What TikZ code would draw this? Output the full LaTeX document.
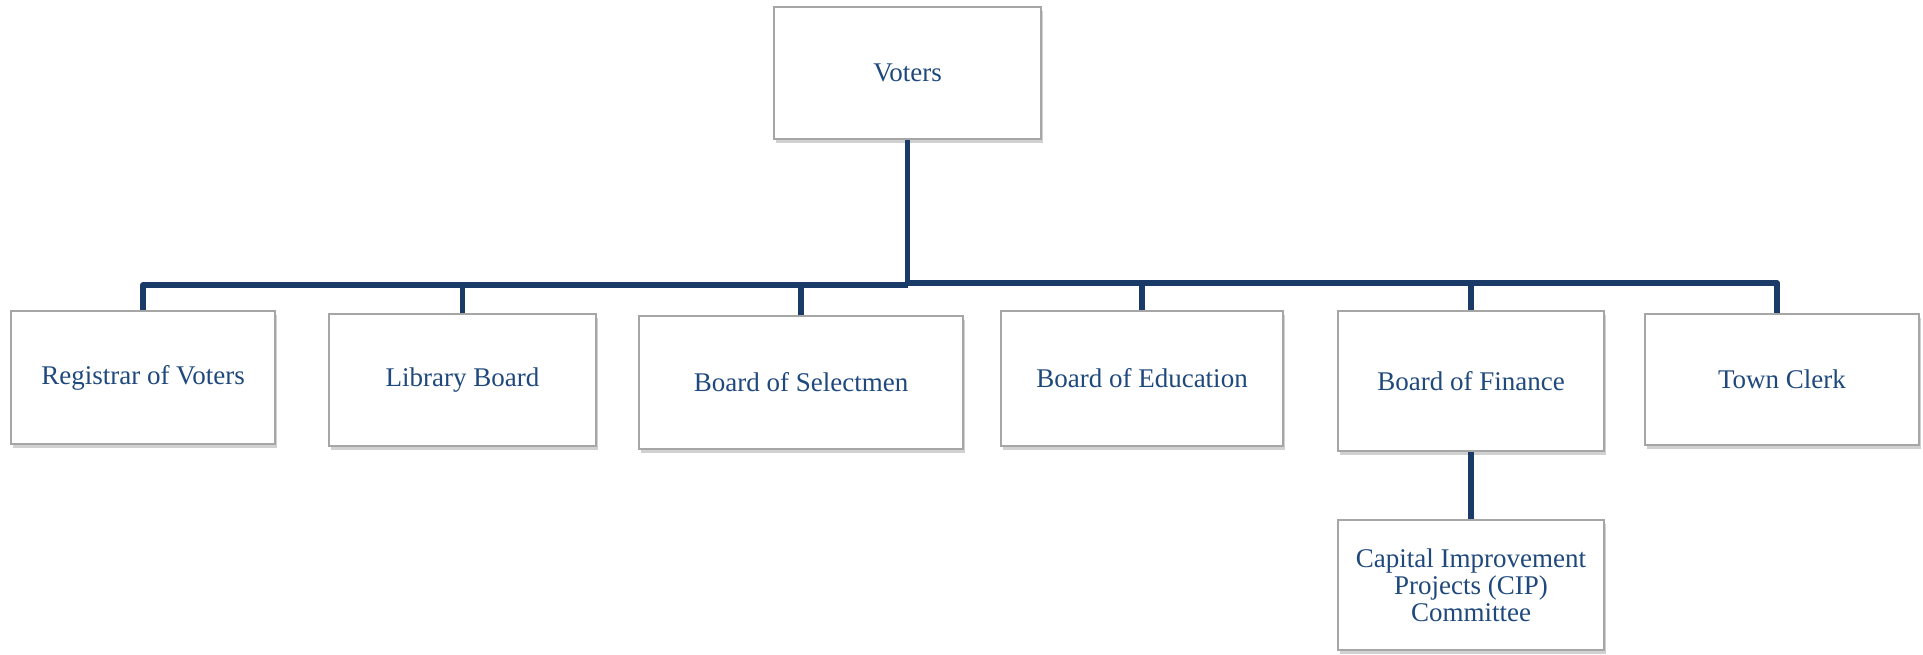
\documentclass[tikz,border=0pt]{standalone}
\usepackage{fontspec}
\setmainfont{Liberation Serif}
\usetikzlibrary{shadows}
\definecolor{txtblue}{HTML}{1F497D}
\definecolor{lineblue}{HTML}{1A3B68}
\definecolor{boxgray}{HTML}{A6A6A6}
\begin{document}
\begin{tikzpicture}[x=1pt,y=-1pt,
  orgbox/.style={draw=boxgray, line width=1.5pt, fill=white, rectangle, inner sep=0pt,
    align=center, text=txtblue, font=\fontsize{27}{27}\selectfont,
    drop shadow={shadow xshift=2pt, shadow yshift=-4pt, opacity=0.3, fill=black!60}},
  conn/.style={draw=lineblue, line width=5.5pt, line join=round}]
\useasboundingbox (0,0) rectangle (1923,654);
\node[orgbox, minimum width=267pt, minimum height=132pt] (voters) at (907.5,73) {Voters};
\node[orgbox, minimum width=264pt, minimum height=133pt] (reg) at (143,377.5) {Registrar of Voters};
\node[orgbox, minimum width=267pt, minimum height=132pt] (lib) at (462.5,380) {Library Board};
\node[orgbox, minimum width=324pt, minimum height=133pt] (sel) at (801,382.5) {Board of Selectmen};
\node[orgbox, minimum width=282pt, minimum height=135pt] (edu) at (1142,378.5) {Board of Education};
\node[orgbox, minimum width=266pt, minimum height=140pt] (fin) at (1471,381) {Board of Finance};
\node[orgbox, minimum width=274pt, minimum height=131pt] (clerk) at (1782,379.5) {Town Clerk};
\node[orgbox, minimum width=266pt, minimum height=130pt] (cip) at (1471,585) {Capital Improvement\\Projects (CIP)\\Committee};
\coordinate (jl) at (907.5,285);
\coordinate (jr) at (907.5,283);
\coordinate (clerkdrop) at (1777,0);
\draw[conn] (voters.south) -- (jl);
\draw[conn] (reg.north) -- (reg.north |- jl) -- (jl);
\draw[conn] (lib.north) -- (lib.north |- jl);
\draw[conn] (sel.north) -- (sel.north |- jl);
\draw[conn] (jr) -- (clerkdrop |- jr) -- (clerkdrop |- clerk.north);
\draw[conn] (edu.north) -- (edu.north |- jr);
\draw[conn] (fin.north) -- (fin.north |- jr);
\draw[conn] (fin.south) -- (cip.north);
\end{tikzpicture}
\end{document}
